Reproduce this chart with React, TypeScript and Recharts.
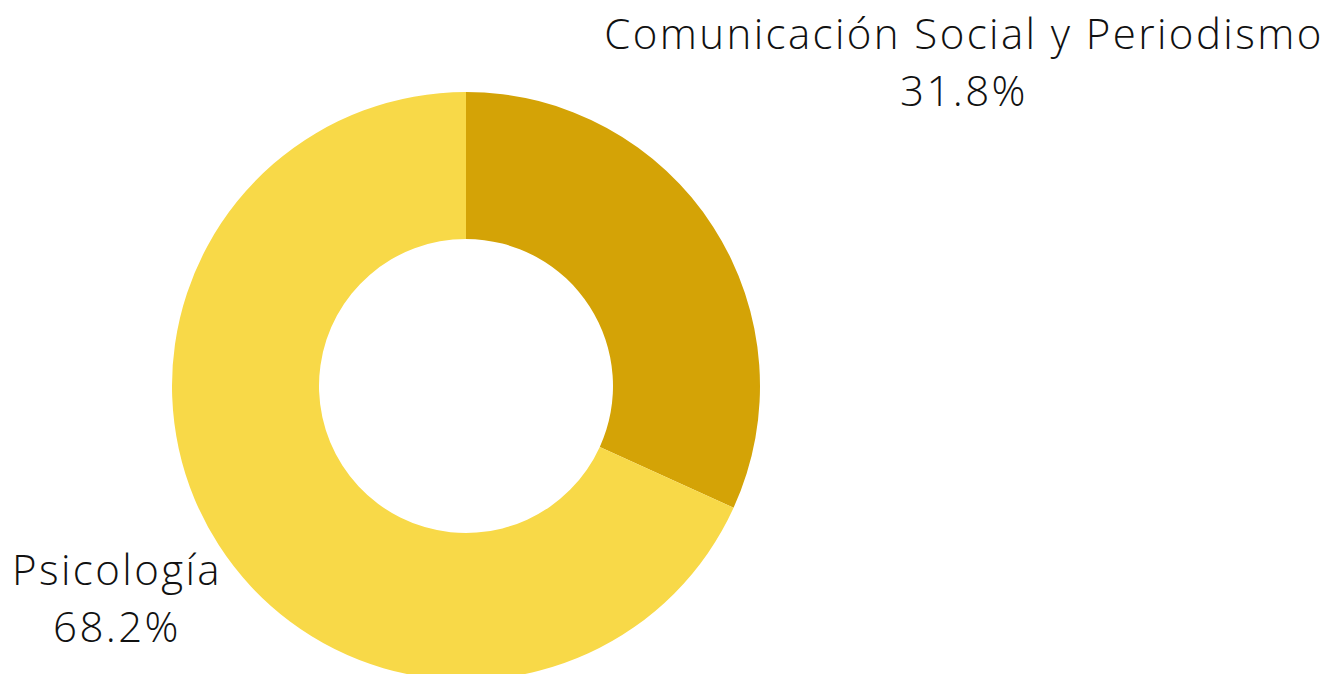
import { PieChart, Pie, Cell } from "recharts"

const categories = ["Comunicación Social y Periodismo", "Psicología"]
const shares = [31.8, 68.2]
const colors = ["#D4A306", "#F8D948"]

const data = categories.map((name, i) => ({ name, value: shares[i] }))

// label anchor offsets from the pie centre (Excel-style placement)
const labelOffsets = [
  { dx: 498, dy: -337 },
  { dx: -349, dy: 199 },
]

const FONT = "'Open Sans', 'Noto Sans', sans-serif"

function renderLabel(props: any) {
  const { cx, cy, index, name, value } = props
  const o = labelOffsets[index]
  const x = cx + o.dx
  const y = cy + o.dy
  return (
    <text
      key={`lbl-${index}`}
      x={x}
      y={y}
      textAnchor="middle"
      fill="#111"
      fontFamily={FONT}
      fontWeight={300}
      fontSize={42}
      letterSpacing={2.4}
    >
      <tspan x={x} y={y}>{name}</tspan>
      <tspan x={x} y={y + 57}>{`${value.toFixed(1)}%`}</tspan>
    </text>
  )
}

export default function App() {
  return (
    <div style={{ width: 1327, height: 674, background: "#fff" }}>
      <style>{`body{margin:0}`}</style>
      <PieChart width={1327} height={674} margin={{ top: 0, right: 0, bottom: 0, left: 0 }}>
        <Pie
          data={data}
          dataKey="value"
          nameKey="name"
          cx={466}
          cy={386}
          innerRadius={147}
          outerRadius={294}
          startAngle={90}
          endAngle={-270}
          stroke="none"
          label={renderLabel}
          labelLine={false}
          isAnimationActive={false}
        >
          {data.map((d, i) => (
            <Cell key={d.name} fill={colors[i]} />
          ))}
        </Pie>
      </PieChart>
    </div>
  )
}
